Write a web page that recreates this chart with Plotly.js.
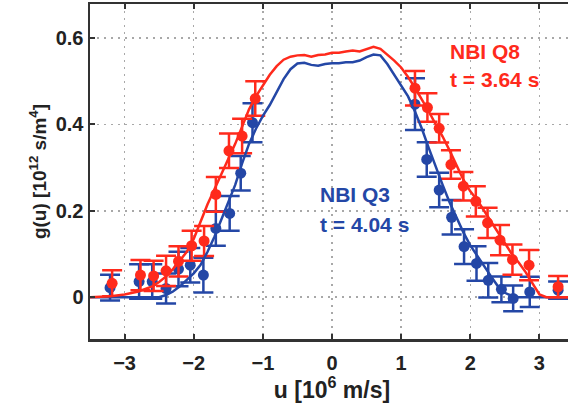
<!DOCTYPE html>
<html><head><meta charset="utf-8">
<script src="https://cdn.plot.ly/plotly-3.0.1.min.js"></script>
<style>html,body{margin:0;padding:0;overflow:hidden;background:#fff}#wrap{width:568px;height:409px;overflow:hidden}</style>
</head><body><div id="wrap"><div id="chart"></div></div>
<script>
// Measured points, NBI Q8 (red)
const q8X = [-3.18,-2.77,-2.58,-2.40,-2.22,-2.03,-1.85,-1.68,-1.49,-1.30,-1.11, 1.20,1.38,1.55,1.72,1.90,2.08,2.25,2.43,2.61,2.85,3.27];
const q8Y = [0.032,0.051,0.049,0.061,0.083,0.119,0.130,0.238,0.339,0.373,0.460, 0.484,0.439,0.391,0.307,0.257,0.222,0.172,0.132,0.087,0.074,0.024];
const q8E = [0.030,0.035,0.035,0.035,0.035,0.035,0.035,0.040,0.040,0.040,0.040, 0.040,0.033,0.033,0.033,0.033,0.035,0.035,0.035,0.035,0.035,0.025];
// Measured points, NBI Q3 (blue)
const q3X = [-3.21,-2.79,-2.60,-2.40,-2.22,-2.05,-1.86,-1.68,-1.48,-1.32,-1.15, 1.20,1.37,1.55,1.73,1.91,2.09,2.26,2.45,2.62,2.86,3.27];
const q3Y = [0.022,0.036,0.036,0.020,0.065,0.074,0.051,0.159,0.194,0.287,0.404, 0.447,0.319,0.248,0.185,0.117,0.078,0.039,0.018,-0.003,0.012,0.016];
const q3E = [0.030,0.040,0.040,0.035,0.040,0.040,0.040,0.040,0.040,0.040,0.045, 0.060,0.040,0.040,0.040,0.040,0.040,0.040,0.030,0.030,0.035,0.020];
// Model curves
const fitX = [-3.5,-3.2,-3.0,-2.8,-2.6,-2.5,-2.4,-2.3,-2.2,-2.1,-2.0,-1.9,-1.8,-1.7,-1.6,-1.5,-1.4,-1.3,-1.2,-1.1,-1.0,-0.9,-0.8,-0.7,-0.6,-0.5,-0.4,-0.3,-0.2,-0.1,0,0.1,0.2,0.3,0.4,0.5,0.6,0.7,0.8,0.9,1.0,1.1,1.2,1.3,1.4,1.5,1.6,1.7,1.8,1.9,2.0,2.1,2.2,2.3,2.4,2.5,2.6,2.7,2.8,2.9,3.0,3.1,3.5];
const q8Fit = [0,0.002,0.006,0.013,0.025,0.035,0.048,0.065,0.085,0.105,0.135,0.175,0.215,0.250,0.285,0.320,0.355,0.395,0.435,0.465,0.490,0.515,0.535,0.550,0.557,0.560,0.561,0.557,0.561,0.562,0.566,0.566,0.569,0.571,0.569,0.575,0.580,0.575,0.562,0.548,0.532,0.510,0.485,0.458,0.430,0.400,0.372,0.340,0.305,0.272,0.245,0.225,0.200,0.175,0.150,0.125,0.100,0.080,0.058,0.032,0.006,0,0];
const q3Fit = [0,0,0,0,0,0,0.005,0.013,0.025,0.040,0.055,0.075,0.105,0.140,0.180,0.220,0.260,0.310,0.355,0.390,0.420,0.445,0.475,0.505,0.528,0.541,0.543,0.538,0.536,0.540,0.542,0.542,0.544,0.544,0.548,0.556,0.562,0.560,0.540,0.515,0.490,0.465,0.430,0.390,0.345,0.300,0.260,0.220,0.185,0.150,0.120,0.095,0.072,0.048,0.025,0.010,0.003,0,0,0,0,0,0];
const xTicks = [-3,-2,-1,0,1,2,3];
const yTicks = [0,0.2,0.4,0.6];

const RED = '#ff2a1c', BLUE = '#2447a6';
const F = 'Liberation Sans, Arial, sans-serif';

function pts(x,y,e,c){return {x:x,y:y,type:'scatter',mode:'markers',
  marker:{color:c,size:11},
  error_y:{type:'data',array:e,visible:true,color:c,thickness:2.5,width:10},
  showlegend:false};}
function fit(y,c){return {x:fitX,y:y,type:'scatter',mode:'lines',line:{color:c,width:2.5},showlegend:false};}

const data = [pts(q3X,q3Y,q3E,BLUE), pts(q8X,q8Y,q8E,RED), fit(q3Fit,BLUE), fit(q8Fit,RED)];

const ax = {showline:true,linecolor:'#333',linewidth:2.5,mirror:'ticks',ticks:'inside',ticklen:5,tickwidth:2,tickcolor:'#333',
  showgrid:true,gridcolor:'#a8a8a8',griddash:'2px,5px',gridwidth:1.5,zeroline:false,
  tickfont:{family:F,size:20,color:'#222',weight:'bold'}};

const layout = {
  width:580,height:409,margin:{l:90,r:6,t:4,b:70},
  paper_bgcolor:'#fff',plot_bgcolor:'#fff',
  xaxis:Object.assign({},ax,{range:[-3.5,3.5],tickvals:xTicks,ticklabelstandoff:4,
    title:{text:'u [10<sup>6</sup> m/s]',font:{family:F,size:23,color:'#222',weight:'bold'},standoff:4}}),
  yaxis:Object.assign({},ax,{range:[-0.097,0.679],tickvals:yTicks,ticktext:['0','0.2','0.4','0.6'],
    title:{text:'g(u) [10<sup>12</sup> s/m<sup>4</sup>]',font:{family:F,size:19,color:'#222',weight:'bold'},standoff:4}}),
  annotations:[
    {x:1.68,y:0.6,xref:'x',yref:'y',xanchor:'left',yanchor:'top',showarrow:false,align:'left',
     text:'<b>NBI Q8</b>',font:{family:F,size:21,color:RED}},
    {x:1.68,y:0.535,xref:'x',yref:'y',xanchor:'left',yanchor:'top',showarrow:false,align:'left',
     text:'<b>t = 3.64 s</b>',font:{family:F,size:21,color:RED}},
    {x:-0.2,y:0.27,xref:'x',yref:'y',xanchor:'left',yanchor:'top',showarrow:false,align:'left',
     text:'<b>NBI Q3</b>',font:{family:F,size:21,color:BLUE}},
    {x:-0.2,y:0.2,xref:'x',yref:'y',xanchor:'left',yanchor:'top',showarrow:false,align:'left',
     text:'<b>t = 4.04 s</b>',font:{family:F,size:21,color:BLUE}}
  ]
};
Plotly.newPlot('chart',data,layout,{displayModeBar:false,staticPlot:true});
</script></body></html>
